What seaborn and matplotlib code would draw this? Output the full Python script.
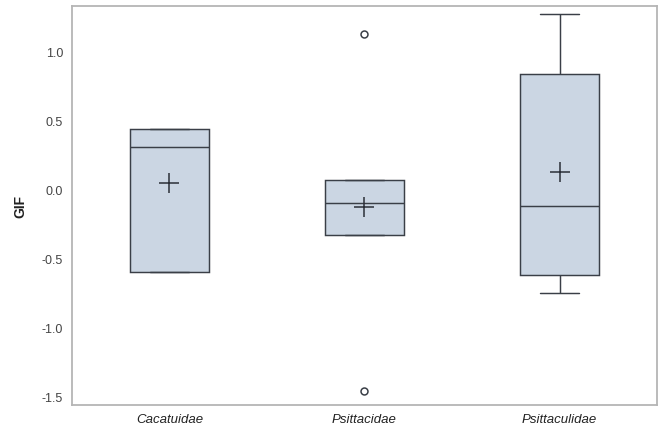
import numpy as np
import pandas as pd
import matplotlib
matplotlib.use('Agg')
import matplotlib.pyplot as plt
import seaborn as sns

# Valores (resumo de cinco números + outliers + médias)
familias = ['Cacatuidae', 'Psittacidae', 'Psittaculidae']
minimo = [-0.598, -0.330, -0.752]
q1 = [-0.598, -0.330, -0.622]
mediana = [0.310, -0.096, -0.122]
q3 = [0.438, 0.069, 0.835]
maximo = [0.438, 0.069, 1.272]
outliers = [[], [-1.458, 1.125], []]
medias = [0.048, -0.129, 0.125]

# Monta a tabela longa usada pelo boxplot
linhas = []
for i, fam in enumerate(familias):
    valores = [minimo[i], q1[i], mediana[i], q3[i], maximo[i]] + outliers[i]
    for v in valores:
        linhas.append({'Familia': fam, 'GIF': v})
df = pd.DataFrame(linhas)

sns.set_theme(style='white')
plt.rcParams['font.family'] = ['Liberation Sans', 'DejaVu Sans']

cor_caixa = '#cbd6e3'
cor_linha = '#3a3f47'

fig = plt.figure(figsize=(6.58, 4.27), dpi=100)
ax = fig.add_axes([0.1094, 0.0492, 0.8891, 0.9344])

sns.boxplot(data=df, x='Familia', y='GIF', order=familias, ax=ax,
            color=cor_caixa, linecolor=cor_linha, saturation=1,
            width=0.41, linewidth=1.05, whis=1.5,
            flierprops=dict(marker='o', markersize=5, markerfacecolor='white',
                            markeredgecolor=cor_linha, markeredgewidth=1.1))

sns.scatterplot(x=familias, y=medias, marker='+', s=190, color='#2b2f38',
                linewidth=1.1, ax=ax, zorder=5)

ax.set_xlim(-0.5, 2.5)
ax.set_ylim(-1.562, 1.330)
ax.set_yticks([-1.5, -1.0, -0.5, 0.0, 0.5, 1.0])
ax.set_yticklabels(['-1.5', '-1.0', '-0.5', '0.0', '0.5', '1.0'])
ax.tick_params(axis='y', length=0, labelsize=9, labelcolor='#444444', pad=6.5)
ax.tick_params(axis='x', length=0, labelsize=9.5, labelcolor='#222222', pad=6)
for lbl in ax.get_xticklabels():
    lbl.set_fontstyle('italic')

ax.set_xlabel('')
ax.set_ylabel('GIF', fontsize=10, fontweight='bold', color='#222222')
ax.yaxis.set_label_coords(-0.077, 0.5)

for s in ax.spines.values():
    s.set_color('#b5b5b5')
    s.set_linewidth(1.3)

fig.savefig('out.png', dpi=100)
